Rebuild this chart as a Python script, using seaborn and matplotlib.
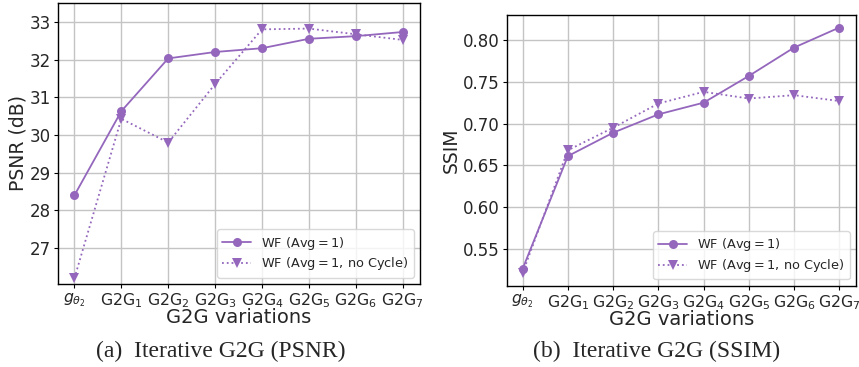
import matplotlib
matplotlib.use("Agg")
import matplotlib.pyplot as plt
import seaborn as sns
import pandas as pd

labels = [r"$g_{\theta_2}$", r"G2G$_1$", r"G2G$_2$", r"G2G$_3$", r"G2G$_4$",
          r"G2G$_5$", r"G2G$_6$", r"G2G$_7$"]
psnr_cycle = [28.40, 30.63, 32.03, 32.20, 32.30, 32.55, 32.62, 32.73]
psnr_nocycle = [26.20, 30.43, 29.80, 31.35, 32.80, 32.82, 32.67, 32.52]
ssim_cycle = [0.526, 0.661, 0.689, 0.711, 0.725, 0.757, 0.791, 0.815]
ssim_nocycle = [0.521, 0.668, 0.695, 0.724, 0.738, 0.730, 0.734, 0.727]
series_names = ["WF (Avg = 1)", "WF (Avg = 1, no Cycle)"]

sns.set_style("whitegrid", {"axes.edgecolor": "black", "grid.color": "#c4c4c4",
                            "xtick.bottom": True, "ytick.left": True})
plt.rcParams["font.family"] = ["DejaVu Sans"]

color = "#9467bd"
fig = plt.figure(figsize=(8.59, 3.67), dpi=100)
ax1 = fig.add_axes([0.0675, 0.226, 0.4215, 0.766])
ax2 = fig.add_axes([0.590, 0.221, 0.4065, 0.738])

def draw(ax, a, b, ylabel, ylim):
    x = list(range(len(labels)))
    df = pd.DataFrame({"x": x * 2, "y": a + b,
                       "s": [series_names[0]] * len(x) + [series_names[1]] * len(x)})
    sns.lineplot(data=df[df.s == series_names[0]], x="x", y="y", ax=ax, color=color,
                 marker="o", markersize=6.5, linewidth=1.3, linestyle="-",
                 markeredgewidth=0, label=r"WF $(\mathrm{Avg} = 1)$")
    sns.lineplot(data=df[df.s == series_names[1]], x="x", y="y", ax=ax, color=color,
                 marker="v", markersize=6.5, linewidth=1.3, linestyle=":",
                 markeredgewidth=0, label=r"WF $(\mathrm{Avg} = 1$, no Cycle$)$")
    ax.set_xticks(x)
    ax.set_xticklabels(labels, fontsize=11.3)
    ax.tick_params(axis="y", labelsize=12, length=3, width=0.8, color="black", pad=2)
    ax.tick_params(axis="x", length=3, width=0.8, color="black", pad=2)
    ax.set_xlim(-0.35, 7.37)
    ax.set_ylim(*ylim)
    ax.set_xlabel("G2G variations", fontsize=14, labelpad=-1)
    ax.set_ylabel(ylabel, fontsize=13.5, labelpad=2)
    for sp in ax.spines.values():
        sp.set_linewidth(1.0)
        sp.set_color("black")
    ax.grid(True, linewidth=1.0)
    leg = ax.legend(loc="lower right", fontsize=9.3, frameon=True, framealpha=0.8,
                    borderpad=0.4, labelspacing=0.3, handlelength=2.2)
    leg.get_frame().set_edgecolor("#d0d0d0")

draw(ax1, psnr_cycle, psnr_nocycle, "PSNR (dB)", (26.05, 33.5))
ax1.set_yticks([27, 28, 29, 30, 31, 32, 33])
draw(ax2, ssim_cycle, ssim_nocycle, "SSIM", (0.5055, 0.830))
ax2.set_yticks([0.55, 0.60, 0.65, 0.70, 0.75, 0.80])
ax2.set_yticklabels(["0.55", "0.60", "0.65", "0.70", "0.75", "0.80"])

fig.text(0.257, 0.041, "(a)  Iterative G2G (PSNR)", ha="center", va="center",
         fontsize=17, family=["Liberation Serif"])
fig.text(0.764, 0.041, "(b)  Iterative G2G (SSIM)", ha="center", va="center",
         fontsize=17, family=["Liberation Serif"])

fig.savefig("out.png", dpi=100)
